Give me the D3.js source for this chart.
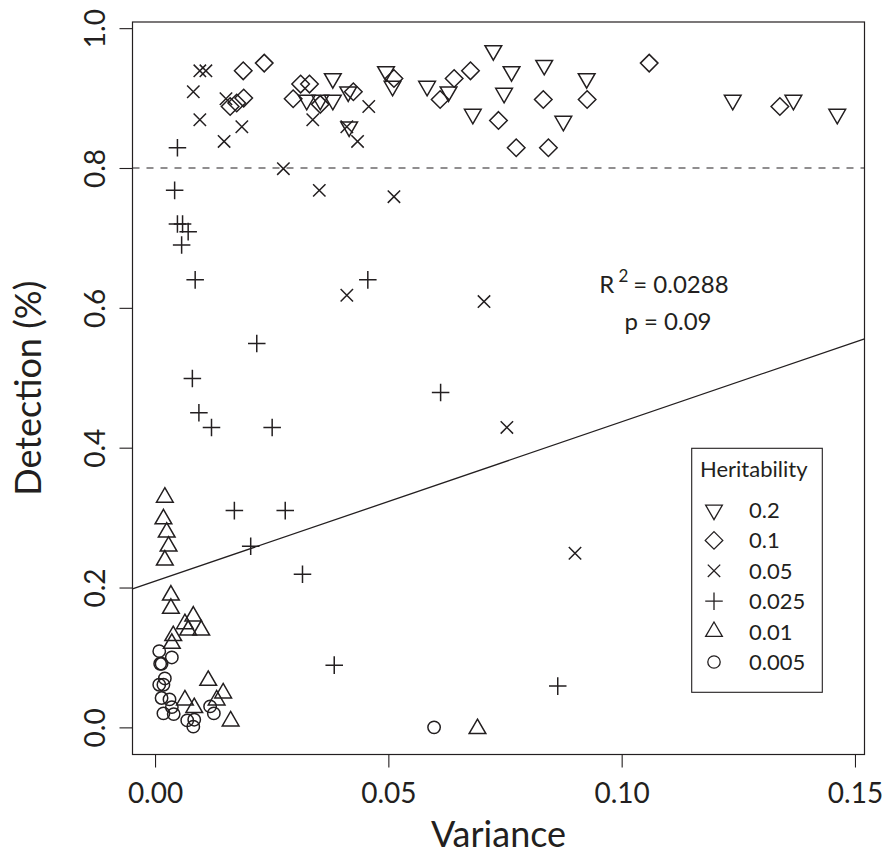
<!DOCTYPE html>
<html>
<head>
<meta charset="utf-8">
<script src="https://cdn.jsdelivr.net/npm/d3@7"></script>
<style>
  body { margin: 0; background: #fff; }
  text { font-family: Lato, "Open Sans", sans-serif; fill: #231f20; }
</style>
</head>
<body>
<div id="chart"></div>
<script>
// values: [variance, detection]
const h020 = [[0.0325,0.897],[0.0354,0.897],[0.0381,0.897],[0.0381,0.928],[0.0414,0.909],
  [0.0416,0.859],[0.0495,0.938],[0.0509,0.917],[0.0583,0.917],[0.0629,0.909],[0.0681,0.877],
  [0.0725,0.968],[0.0748,0.907],[0.0764,0.938],[0.0834,0.947],[0.0875,0.867],[0.0925,0.928],
  [0.1238,0.897],[0.1368,0.897],[0.1462,0.877]];
const h010 = [[0.0161,0.888],[0.0175,0.893],[0.0190,0.900],[0.0189,0.939],[0.0234,0.950],
  [0.0296,0.899],[0.0312,0.920],[0.0331,0.920],[0.0354,0.891],[0.0425,0.909],[0.0512,0.928],
  [0.0611,0.898],[0.0641,0.928],[0.0676,0.939],[0.0736,0.868],[0.0774,0.829],[0.0832,0.898],
  [0.0843,0.829],[0.0926,0.898],[0.1059,0.950],[0.1339,0.888]];
const h005 = [[0.0082,0.909],[0.0096,0.939],[0.0109,0.939],[0.0096,0.869],[0.0148,0.838],
  [0.0152,0.899],[0.0186,0.859],[0.0275,0.799],[0.0338,0.869],[0.0352,0.768],[0.0411,0.859],
  [0.0434,0.838],[0.0458,0.888],[0.0512,0.759],[0.0411,0.618],[0.0705,0.609],[0.0754,0.429],
  [0.0900,0.249]];
const h0025 = [[0.0048,0.829],[0.0042,0.768],[0.0048,0.720],[0.0059,0.720],[0.0071,0.709],
  [0.0057,0.690],[0.0086,0.640],[0.0218,0.549],[0.0080,0.499],[0.0094,0.450],[0.0121,0.429],
  [0.0251,0.429],[0.0456,0.640],[0.0612,0.479],[0.0170,0.310],[0.0279,0.310],[0.0205,0.259],
  [0.0316,0.219],[0.0384,0.089],[0.0863,0.059]];
const h001 = [[0.0021,0.329],[0.0018,0.298],[0.0025,0.279],[0.0029,0.259],[0.0021,0.239],
  [0.0034,0.189],[0.0034,0.170],[0.0082,0.159],[0.0064,0.148],[0.0071,0.139],[0.0099,0.139],
  [0.0039,0.131],[0.0036,0.120],[0.0114,0.067],[0.0146,0.049],[0.0064,0.039],[0.0132,0.039],
  [0.0084,0.028],[0.0162,0.009],[0.0691,-0.002]];
const h0005 = [[0.0009,0.109],[0.0036,0.100],[0.0011,0.091],[0.0014,0.091],[0.0021,0.070],
  [0.0009,0.061],[0.0018,0.061],[0.0014,0.042],[0.0031,0.040],[0.0036,0.029],[0.0018,0.020],
  [0.0040,0.019],[0.0118,0.030],[0.0126,0.020],[0.0069,0.010],[0.0084,0.011],[0.0082,0.001],
  [0.0598,0.000]];

const heritLabels = ["0.2", "0.1", "0.05", "0.025", "0.01", "0.005"];
const heritShapes = ["triDown", "diamond", "cross", "plus", "triUp", "circle"];
const xTicks = [0, 0.05, 0.10, 0.15];
const yTicks = [0, 0.2, 0.4, 0.6, 0.8, 1.0];
const threshold = 0.8;
const regIntercept = 0.209, regSlope = 2.28;
const statLines = ["0.0288", "p = 0.09"];

const series = [h020, h010, h005, h0025, h001, h0005].map((pts, i) => ({
  label: heritLabels[i], shape: heritShapes[i], points: pts
}));

const width = 885, height = 856;
const ink = "#231f20";

const svg = d3.select("#chart").append("svg")
  .attr("width", width).attr("height", height);

// R style axes: range padded 4% on each side
const x = d3.scaleLinear().domain([-0.00483, 0.15204]).range([132.5, 864.5]);
const y = d3.scaleLinear().domain([-0.0388, 1.0088]).range([754.5, 22]);

// pch-like symbol paths, centred on 0,0
const R = 6.2;
function pch(shape) {
  const t0 = 1.5551 * R, t1 = 1.3468 * R, t2 = 0.7776 * R;
  const d = Math.SQRT2 * R;
  switch (shape) {
    case "triDown": return `M0,${t0}L${t1},${-t2}L${-t1},${-t2}Z`;
    case "triUp": return `M0,${-t0}L${t1},${t2}L${-t1},${t2}Z`;
    case "diamond": return `M0,${-d}L${d},0L0,${d}L${-d},0Z`;
    case "cross": return `M${-R},${-R}L${R},${R}M${-R},${R}L${R},${-R}`;
    case "plus": return `M${-d},0H${d}M0,${-d}V${d}`;
    default: return `M${R},0A${R},${R} 0 1,1 ${-R},0A${R},${R} 0 1,1 ${R},0Z`;
  }
}

svg.append("clipPath").attr("id", "plotclip")
  .append("rect")
  .attr("x", x.range()[0]).attr("y", y.range()[1])
  .attr("width", x.range()[1] - x.range()[0])
  .attr("height", y.range()[0] - y.range()[1]);

// x axis
const gx = svg.append("g")
  .attr("transform", `translate(0,${y.range()[0]})`)
  .call(d3.axisBottom(x).tickValues(xTicks).tickFormat(d3.format(".2f"))
    .tickSize(13).tickPadding(16));
gx.select(".domain").remove();
gx.selectAll("line").attr("stroke", ink).attr("stroke-width", 1.1);
gx.selectAll("text").attr("font-size", "28px").style("font-family", "Lato").attr("fill", ink);

// y axis, labels turned like R's las = 0
const gy = svg.append("g")
  .attr("transform", `translate(${x.range()[0]},0)`)
  .call(d3.axisLeft(y).tickValues(yTicks).tickFormat(d3.format(".1f")).tickSize(13));
gy.select(".domain").remove();
gy.selectAll("line").attr("stroke", ink).attr("stroke-width", 1.1);
gy.selectAll("text")
  .attr("transform", "rotate(-90)")
  .attr("x", 0).attr("y", -28).attr("dy", 0)
  .attr("text-anchor", "middle")
  .attr("font-size", "28px").style("font-family", "Lato").attr("fill", ink);

// axis titles
svg.append("text")
  .attr("x", (x.range()[0] + x.range()[1]) / 2).attr("y", 847)
  .attr("text-anchor", "middle").attr("font-size", "36px")
  .text("Variance");
svg.append("text")
  .attr("transform", `translate(41,${(y.range()[0] + y.range()[1]) / 2}) rotate(-90)`)
  .attr("text-anchor", "middle").attr("font-size", "36px")
  .text("Detection (%)");

const plot = svg.append("g").attr("clip-path", "url(#plotclip)");

// 80% detection threshold
plot.append("line")
  .attr("x1", x.range()[0]).attr("x2", x.range()[1])
  .attr("y1", y(threshold)).attr("y2", y(threshold))
  .attr("stroke", ink).attr("stroke-width", 1.1)
  .attr("stroke-dasharray", "7,7");

// regression line across the whole panel
const xd = x.domain();
plot.append("line")
  .attr("x1", x(xd[0])).attr("y1", y(regIntercept + regSlope * xd[0]))
  .attr("x2", x(xd[1])).attr("y2", y(regIntercept + regSlope * xd[1]))
  .attr("stroke", ink).attr("stroke-width", 1.3);

// points
series.forEach(s => {
  plot.append("g").selectAll("path")
    .data(s.points)
    .enter().append("path")
      .attr("transform", d => `translate(${x(d[0])},${y(d[1])})`)
      .attr("d", pch(s.shape))
      .attr("fill", "none")
      .attr("stroke", ink)
      .attr("stroke-width", 1.5);
});

// box
svg.append("rect")
  .attr("x", x.range()[0]).attr("y", y.range()[1])
  .attr("width", x.range()[1] - x.range()[0])
  .attr("height", y.range()[0] - y.range()[1])
  .attr("fill", "none").attr("stroke", ink).attr("stroke-width", 1.2);

// R^2 and p
const r2 = svg.append("text")
  .attr("x", 664).attr("y", 293)
  .attr("text-anchor", "middle").attr("font-size", "24px");
r2.append("tspan").text("R");
r2.append("tspan").attr("dx", 4).attr("dy", -11).attr("font-size", "17px").text("2");
r2.append("tspan").attr("dx", 5).attr("dy", 11).text("= " + statLines[0]);
svg.append("text")
  .attr("x", 668).attr("y", 330)
  .attr("text-anchor", "middle").attr("font-size", "24px")
  .text(statLines[1]);

// legend
const leg = svg.append("g");
leg.append("rect")
  .attr("x", 691.7).attr("y", 448.3).attr("width", 130.6).attr("height", 244)
  .attr("fill", "#fff").attr("stroke", ink).attr("stroke-width", 1.1);
leg.append("text")
  .attr("x", 700).attr("y", 477).attr("font-size", "22px")
  .text("Heritability");
const rows = leg.selectAll(".row")
  .data(series).enter().append("g")
  .attr("transform", (d, i) => `translate(0,${510 + i * 30.4})`);
rows.append("path")
  .attr("transform", "translate(714,0)")
  .attr("d", d => pch(d.shape))
  .attr("fill", "none").attr("stroke", ink).attr("stroke-width", 1.3);
rows.append("text")
  .attr("x", 749).attr("y", 8).attr("font-size", "22px")
  .text(d => d.label);
</script>
</body>
</html>
